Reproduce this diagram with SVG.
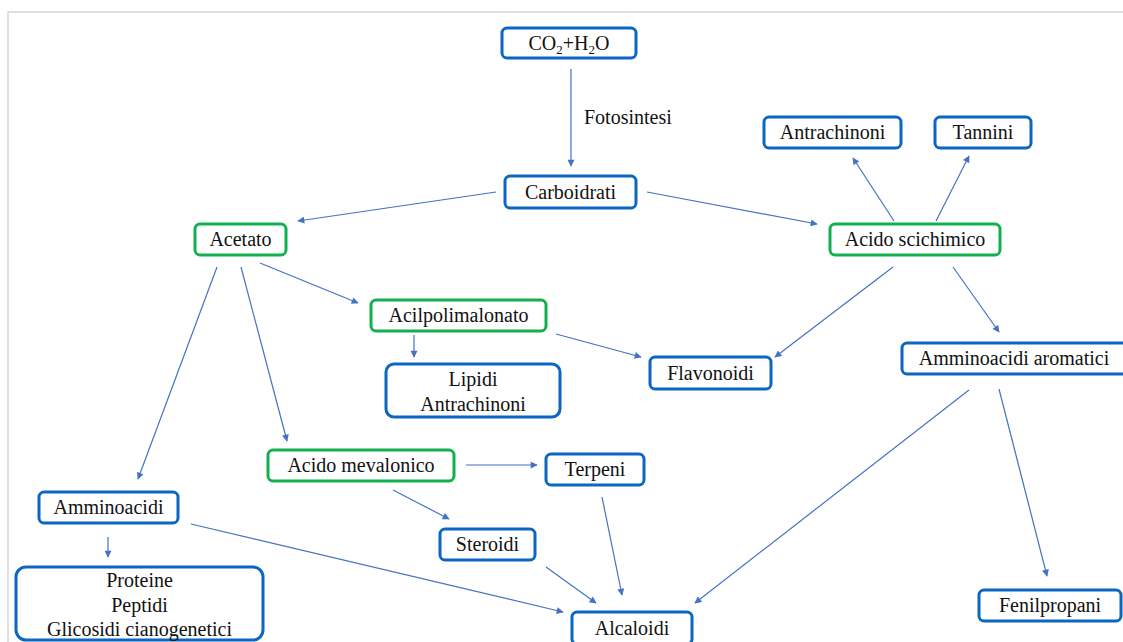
<svg xmlns="http://www.w3.org/2000/svg" width="1123" height="642" viewBox="0 0 1123 642" font-family="'Liberation Serif', 'Times New Roman', serif">
<defs>
<marker id="ah" viewBox="0 0 10 10" refX="9" refY="5" markerWidth="8" markerHeight="7" markerUnits="userSpaceOnUse" orient="auto">
<path d="M0,0 L10,5 L0,10 z" fill="#4472C4"/>
</marker>
<style>
.b rect{fill:#fff;stroke:#0B67C2;stroke-width:3}
.g rect{fill:#fff;stroke:#12B04E;stroke-width:3}
text{font-family:"Liberation Serif","Times New Roman",serif;font-size:20px;fill:#111;text-anchor:middle}
text.lbl{text-anchor:start}
#connectors line{stroke:#4472C4;stroke-width:1.2;marker-end:url(#ah)}
</style>
</defs>
<rect x="0" y="0" width="1123" height="642" fill="#fff"/>
<path d="M8,642 V12 H1123" fill="none" stroke="#d6d6d6" stroke-width="1.5"/>
<g id="connectors">
<line x1="571" y1="69" x2="571" y2="166"/>
<line x1="496" y1="192" x2="298" y2="221"/>
<line x1="647" y1="192" x2="817" y2="224"/>
<line x1="894" y1="221" x2="853" y2="158"/>
<line x1="936" y1="221" x2="969" y2="156"/>
<line x1="893" y1="267" x2="775" y2="357"/>
<line x1="953" y1="267" x2="999" y2="332"/>
<line x1="260" y1="263" x2="358" y2="303"/>
<line x1="414" y1="335" x2="414" y2="357"/>
<line x1="556" y1="334" x2="641" y2="357"/>
<line x1="217" y1="267" x2="138" y2="479"/>
<line x1="241" y1="267" x2="287" y2="441"/>
<line x1="466" y1="465" x2="537" y2="465"/>
<line x1="393" y1="490" x2="449" y2="519"/>
<line x1="108" y1="537" x2="108" y2="557"/>
<line x1="191" y1="524" x2="563" y2="612"/>
<line x1="602" y1="497" x2="622" y2="595"/>
<line x1="546" y1="567" x2="596" y2="603"/>
<line x1="969" y1="390" x2="695" y2="603"/>
<line x1="999" y1="389" x2="1047" y2="576"/>
</g>
<text class="lbl" x="584" y="124">Fotosintesi</text>
<g id="co2" class="b"><rect x="502" y="28" width="134" height="30" rx="5"/><text x="569" y="50">CO<tspan font-size="13" dy="4">2</tspan><tspan dy="-4">+H</tspan><tspan font-size="13" dy="4">2</tspan><tspan dy="-4">O</tspan></text></g>
<g id="carboidrati" class="b"><rect x="505" y="176" width="131" height="32" rx="5"/><text x="570.5" y="199">Carboidrati</text></g>
<g id="acetato" class="g"><rect x="195" y="224" width="91" height="31" rx="5"/><text x="240.5" y="246">Acetato</text></g>
<g id="acido-scichimico" class="g"><rect x="830" y="224" width="170" height="31" rx="5"/><text x="915" y="246">Acido scichimico</text></g>
<g id="antrachinoni-top" class="b"><rect x="764" y="117" width="137" height="31" rx="5"/><text x="832.5" y="139">Antrachinoni</text></g>
<g id="tannini" class="b"><rect x="935" y="117" width="96" height="31" rx="5"/><text x="983" y="139">Tannini</text></g>
<g id="acilpolimalonato" class="g"><rect x="371" y="300" width="175" height="31" rx="5"/><text x="458.5" y="322">Acilpolimalonato</text></g>
<g id="lipidi" class="b"><rect x="386" y="364" width="174" height="53" rx="8"/><text x="473" y="386">Lipidi</text><text x="473" y="411">Antrachinoni</text></g>
<g id="flavonoidi" class="b"><rect x="650" y="357" width="121" height="32" rx="5"/><text x="710.5" y="380">Flavonoidi</text></g>
<g id="amminoacidi-aromatici" class="b"><rect x="902" y="343" width="226" height="31" rx="5"/><text x="1014" y="365">Amminoacidi aromatici</text></g>
<g id="acido-mevalonico" class="g"><rect x="268" y="450" width="186" height="31" rx="5"/><text x="361" y="472">Acido mevalonico</text></g>
<g id="terpeni" class="b"><rect x="546" y="454" width="98" height="31" rx="5"/><text x="595" y="476">Terpeni</text></g>
<g id="amminoacidi" class="b"><rect x="39" y="492" width="139" height="31" rx="5"/><text x="108.5" y="514">Amminoacidi</text></g>
<g id="steroidi" class="b"><rect x="440" y="529" width="95" height="31" rx="5"/><text x="487.5" y="551">Steroidi</text></g>
<g id="proteine" class="b"><rect x="16" y="567" width="247" height="73" rx="10"/><text x="139.5" y="587">Proteine</text><text x="139.5" y="611.5">Peptidi</text><text x="139.5" y="636">Glicosidi cianogenetici</text></g>
<g id="alcaloidi" class="b"><rect x="572" y="612" width="120" height="32" rx="5"/><text x="632" y="635">Alcaloidi</text></g>
<g id="fenilpropani" class="b"><rect x="979" y="590" width="142" height="31" rx="5"/><text x="1050" y="612">Fenilpropani</text></g>
</svg>
